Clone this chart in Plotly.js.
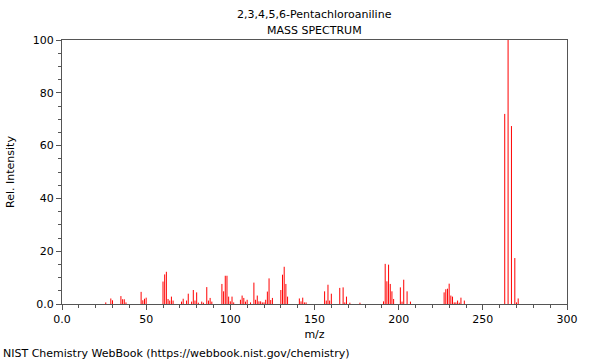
<!DOCTYPE html>
<html>
<head>
<meta charset="utf-8">
<script src="https://cdn.plot.ly/plotly-3.0.1.min.js"></script>
<style>html,body{margin:0;padding:0;background:#fff;}#chart{width:600px;height:360px;}</style>
</head>
<body>
<div id="chart"></div>
<script>
var mz = [26,29,30,35,36,37,38,47,48,49,50,
  60,61,62,63,64,65,66,71,72,74,75,77,78,79,80,81,83,84,86,87,88,89,
  95,96,97,98,99,100,101,102,106,107,108,109,110,112,114,115,116,117,118,119,120,
  121,122,123,124,125,130,131,132,133,134,141,142,143,144,145,
  156,157,158,159,160,165,167,168,169,171,177,
  191,192,193,194,195,196,197,201,202,203,205,207,
  227,228,229,230,231,232,233,234,235,236,237,239,
  263,265,267,269,270,271];
var intensity = [0.6,2.1,1.4,3.0,1.8,1.8,0.6,4.6,1.4,2.0,2.4,
  8.5,11.2,12.2,1.9,1.3,2.8,1.3,0.9,2.0,1.3,3.9,0.9,5.3,1.3,4.4,0.5,0.9,0.5,6.4,1.3,2.3,0.9,
  7.6,4.8,10.7,10.7,2.8,1.0,2.8,0.6,1.6,3.2,2.3,0.9,1.6,0.6,8.1,1.6,3.2,1.0,1.0,0.6,0.6,
  1.6,4.7,9.7,1.5,2.3,5.3,11.1,14.1,7.6,2.8,2.1,1.0,2.4,0.6,0.6,
  4.8,1.3,7.3,1.3,3.9,6.1,6.3,0.6,2.8,0.5,0.5,
  1.0,15.2,8.6,14.9,7.6,4.8,1.9,6.3,0.9,9.2,4.8,0.9,
  4.4,5.6,5.8,7.7,3.2,2.8,0.6,0.6,1.3,0.5,2.4,1.3,
  72.0,100,67.4,17.4,0.6,2.1];
var xTickVals = [0,50,100,150,200,250,300];
var xTickText = ["0.0","50","100","150","200","250","300"];
var yTickVals = [0,20,40,60,80,100];
var yTickText = ["0.0","20","40","60","80","100"];

var xs = [], ys = [];
for (var i = 0; i < mz.length; i++) {
  xs.push(mz[i], mz[i], null);
  ys.push(0, intensity[i], null);
}

var font = {family: "DejaVu Sans, sans-serif", size: 11, color: "#000"};
var axisCommon = {
  showline: true, mirror: true, linecolor: "#555", linewidth: 1,
  ticks: "outside", ticklen: 5, tickcolor: "#555", tickwidth: 1,
  showgrid: false, zeroline: false, tickfont: font, tickmode: "array"
};

var layout = {
  width: 600, height: 360,
  margin: {l: 62, r: 33, t: 40, b: 56},
  paper_bgcolor: "#fff", plot_bgcolor: "#fff",
  font: font,
  showlegend: false,
  xaxis: Object.assign({}, axisCommon, {
    range: [0, 300], tickvals: xTickVals, ticktext: xTickText,
    minor: {dtick: 10, ticks: "outside", ticklen: 3, tickcolor: "#555", showgrid: false},
    title: {text: "m/z", font: font, standoff: 5}
  }),
  yaxis: Object.assign({}, axisCommon, {
    range: [0, 100], tickvals: yTickVals, ticktext: yTickText,
    minor: {dtick: 5, ticks: "outside", ticklen: 3, tickcolor: "#555", showgrid: false},
    title: {text: "Rel. Intensity", font: font, standoff: 15}
  }),
  annotations: [
    {text: "2,3,4,5,6-Pentachloroaniline", xref: "paper", yref: "paper", x: 0.5, y: 1, yshift: 26, showarrow: false, font: font, xanchor: "center", yanchor: "middle"},
    {text: "MASS SPECTRUM", xref: "paper", yref: "paper", x: 0.5, y: 1, yshift: 10, showarrow: false, font: font, xanchor: "center", yanchor: "middle"},
    {text: "NIST Chemistry WebBook (https://webbook.nist.gov/chemistry)", xref: "paper", yref: "paper", x: 0, y: 0, xshift: -61, yshift: -49, showarrow: false, font: font, xanchor: "left", yanchor: "middle"}
  ]
};

Plotly.newPlot("chart", [{
  type: "scatter", mode: "lines", x: xs, y: ys,
  line: {color: "#ff0000", width: 1}, connectgaps: false, hoverinfo: "skip"
}], layout, {displayModeBar: false, staticPlot: true});
</script>
</body>
</html>
